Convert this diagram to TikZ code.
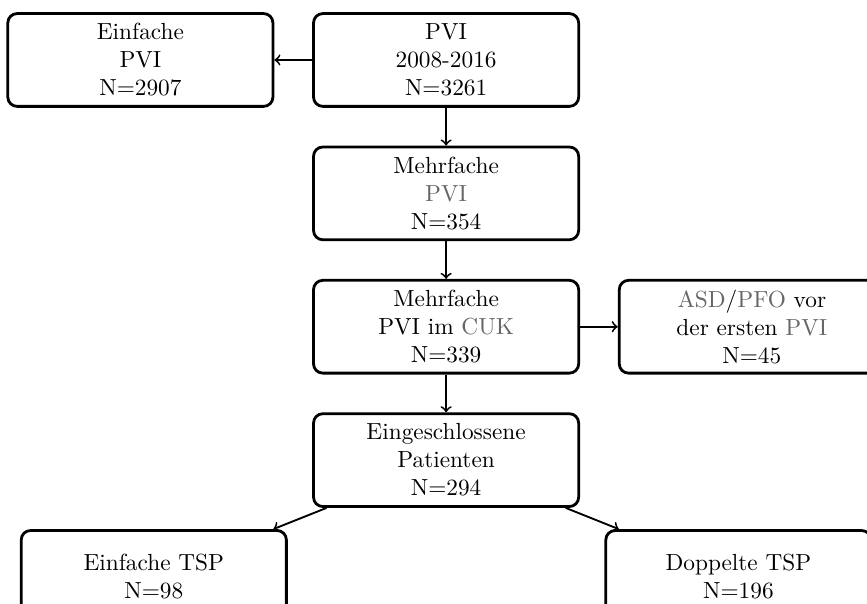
\documentclass[tikz,border=0pt]{standalone}
\usetikzlibrary{positioning}

\colorlet{abkgray}{black!60}
\newcommand{\abk}[1]{\textcolor{abkgray}{#1}}

\begin{document}
\begin{tikzpicture}[
    box/.style={draw, very thick, rounded corners, minimum width=4cm, minimum height=1.4cm, align=center},
    pfeil/.style={->, thick},
    node distance=0.57cm
]
    % Bildausschnitt
    \path[use as bounding box, clip] (0,0) rectangle (13.08,-9.10);

    \node[box] (pvi) at (6.73,-0.905) {PVI\\2008-2016\\N=3261};
    \node[box, left=of pvi] (einfach) {Einfache\\PVI\\N=2907};
    \node[box, below=of pvi] (mehr) {Mehrfache\\\abk{PVI}\\N=354};
    \node[box, below=of mehr] (cuk) {Mehrfache\\PVI im \abk{CUK}\\N=339};
    \node[box, right=of cuk] (asd) {\abk{ASD}/\abk{PFO} vor\\der ersten \abk{PVI}\\N=45};
    \node[box, below=of cuk] (pat) {Eingeschlossene\\Patienten\\N=294};
    \node[box, below=0.32cm of pat, xshift=-4.41cm] (tspE) {Einfache TSP\\N=98};
    \node[box, below=0.32cm of pat, xshift=4.41cm] (tspD) {Doppelte TSP\\N=196};

    \draw[pfeil] (pvi) -- (einfach);
    \draw[pfeil] (pvi) -- (mehr);
    \draw[pfeil] (mehr) -- (cuk);
    \draw[pfeil] (cuk) -- (asd);
    \draw[pfeil] (cuk) -- (pat);
    \draw[pfeil] (pat) -- (tspE);
    \draw[pfeil] (pat) -- (tspD);
\end{tikzpicture}
\end{document}
